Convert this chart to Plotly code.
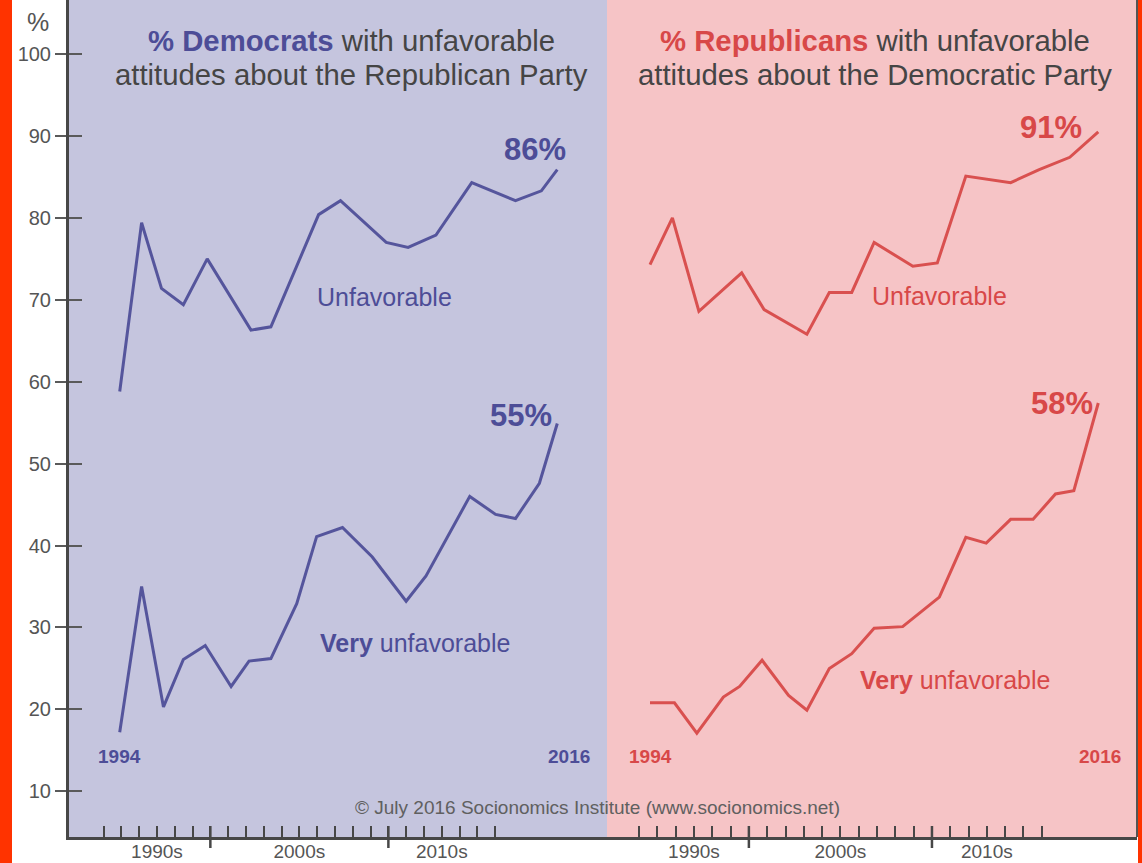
import plotly.graph_objects as go

# ---------------- data ----------------
dem_unfav_years = [1994.0, 1995.1, 1996.1, 1997.2, 1998.4, 2000.6, 2001.6, 2003.0,
                   2004.0, 2005.1, 2007.4, 2008.5, 2009.9, 2011.7, 2013.9, 2015.2, 2016.0]
dem_unfav = [58.8, 79.4, 71.4, 69.4, 75.0, 66.3, 66.7, 74.8,
             80.4, 82.1, 77.0, 76.4, 77.9, 84.3, 82.1, 83.3, 85.9]

dem_very_years = [1994.0, 1995.1, 1996.2, 1997.2, 1998.3, 1999.6, 2000.5, 2001.6, 2002.9,
                  2003.9, 2005.2, 2006.7, 2008.4, 2009.4, 2011.6, 2012.9, 2013.9, 2015.1, 2016.0]
dem_very = [17.2, 35.0, 20.3, 26.1, 27.8, 22.8, 25.9, 26.2, 32.9,
            41.1, 42.2, 38.6, 33.2, 36.3, 46.0, 43.8, 43.3, 47.6, 54.9]

rep_unfav_years = [1994.0, 1995.1, 1996.4, 1998.5, 1999.6, 2001.7, 2002.8, 2003.9,
                   2005.0, 2006.9, 2008.1, 2009.5, 2011.7, 2013.1, 2014.6, 2016.0]
rep_unfav = [74.3, 80.0, 68.6, 73.3, 68.8, 65.8, 70.9, 70.9,
             77.0, 74.1, 74.5, 85.1, 84.3, 85.9, 87.4, 90.5]

rep_very_years = [1994.0, 1995.2, 1996.3, 1997.6, 1998.4, 1999.5, 2000.8, 2001.7, 2002.8,
                  2003.9, 2005.0, 2006.4, 2007.3, 2008.2, 2009.5, 2010.5, 2011.7, 2012.8,
                  2013.9, 2014.8, 2016.0]
rep_very = [20.8, 20.8, 17.1, 21.5, 22.8, 26.0, 21.7, 19.9, 25.0,
            26.8, 29.9, 30.1, 31.9, 33.7, 41.0, 40.3, 43.2, 43.2,
            46.3, 46.7, 57.4]

y_ticks = [10, 20, 30, 40, 50, 60, 70, 80, 90, 100]
tick_years = list(range(1994, 2017))
decade_labels = {1997: "1990s", 2005: "2000s", 2013: "2010s"}
decade_marks = [2000, 2010]

end_dem = ["86%", "55%"]
end_rep = ["91%", "58%"]

# ---------------- style ----------------
FONT = "Liberation Sans, Arial, Helvetica, sans-serif"
BLUE_BG = "#c5c5de"
PINK_BG = "#f6c4c6"
BLUE = "#55559c"
BLUE_TXT = "#4d4d97"
RED = "#d9504f"
RED_TXT = "#d84848"
GRAY_TXT = "#454545"
AXIS = "#474747"
EDGE = "#ff3300"

W, H = 1142, 863
ML, MR, MT, MB = 69, 5, 0, 26
PW, PH = W - ML - MR, H - MT - MB
SPLIT = (607 - ML) / PW


def px_x(px):
    return (px - ML) / PW


def px_y(py):
    return 1 - (py - MT) / PH


fig = go.Figure()

line_kw = dict(mode="lines", showlegend=False, hoverinfo="skip")
fig.add_trace(go.Scatter(x=dem_unfav_years, y=dem_unfav, xaxis="x", yaxis="y",
                         line=dict(color=BLUE, width=3), **line_kw))
fig.add_trace(go.Scatter(x=dem_very_years, y=dem_very, xaxis="x", yaxis="y",
                         line=dict(color=BLUE, width=3), **line_kw))
fig.add_trace(go.Scatter(x=rep_unfav_years, y=rep_unfav, xaxis="x2", yaxis="y",
                         line=dict(color=RED, width=3), **line_kw))
fig.add_trace(go.Scatter(x=rep_very_years, y=rep_very, xaxis="x2", yaxis="y",
                         line=dict(color=RED, width=3), **line_kw))
# carriers for the decorative tick axes
for xa, ya in (("x3", "y"), ("x4", "y"), ("x", "y2")):
    fig.add_trace(go.Scatter(x=[None], y=[None], xaxis=xa, yaxis=ya, **line_kw))

tick_text = [decade_labels.get(y, "") for y in tick_years]
tick_axis = dict(
    tickmode="array", tickvals=tick_years, ticktext=tick_text,
    ticks="inside", ticklen=11, tickwidth=1.5, tickcolor=AXIS,
    showline=True, linecolor=AXIS, linewidth=3, showgrid=False, zeroline=False,
    tickfont=dict(family=FONT, size=19, color="#555555"), ticklabelstandoff=-5,
    anchor="y", side="bottom", fixedrange=True, automargin=False,
)

fig.update_layout(
    width=W, height=H,
    margin=dict(l=ML, r=MR, t=MT, b=MB, autoexpand=False),
    paper_bgcolor="white", plot_bgcolor="white",
    xaxis=dict(domain=[0, SPLIT], range=[1991.45, 2018.5], visible=False, anchor="y",
               automargin=False),
    xaxis2=dict(domain=[SPLIT, 1], range=[1991.89, 2017.9], visible=False, anchor="y",
                automargin=False),
    xaxis3=dict(overlaying="x", range=[1992.06, 2022.28], **tick_axis),
    xaxis4=dict(overlaying="x2", range=[1992.25, 2021.2], **tick_axis),
    yaxis=dict(domain=[0, 1], range=[4.42, 106.6], tickvals=y_ticks,
               ticks="outside", ticklen=11, tickwidth=2, tickcolor="#5a5a5a",
               showline=True, linecolor=AXIS, linewidth=3, showgrid=False, zeroline=False,
               tickfont=dict(family=FONT, size=20, color="#555555"), anchor="x",
               automargin=False),
    yaxis2=dict(overlaying="y", range=[4.42, 106.6], tickvals=y_ticks,
                ticks="inside", ticklen=13, tickwidth=2, tickcolor="#5a5a5a",
                showticklabels=False, showline=False, showgrid=False, zeroline=False,
                side="left", anchor="x", automargin=False),
)

shapes = [
    dict(type="rect", xref="x domain", yref="paper", x0=0, x1=1, y0=0, y1=1,
         fillcolor=BLUE_BG, line=dict(width=0), layer="below"),
    dict(type="rect", xref="x2 domain", yref="paper", x0=0, x1=1, y0=0, y1=1,
         fillcolor=PINK_BG, line=dict(width=0), layer="below"),
    # frame edge on the right
    dict(type="line", xref="paper", yref="paper", x0=1, x1=1, y0=0, y1=1,
         line=dict(color="#555555", width=2)),
    # orange-red page edges
    dict(type="rect", xref="paper", yref="paper",
         x0=px_x(0), x1=px_x(12), y0=px_y(H), y1=1,
         fillcolor=EDGE, line=dict(width=0)),
    dict(type="rect", xref="paper", yref="paper",
         x0=px_x(1138), x1=px_x(W), y0=px_y(H), y1=1,
         fillcolor=EDGE, line=dict(width=0)),
]
for xa in ("x3", "x4"):
    for yr in decade_marks:
        shapes.append(dict(type="line", xref=xa, yref="paper", x0=yr, x1=yr,
                           y0=px_y(848), y1=px_y(826), line=dict(color=AXIS, width=2.5)))
fig.update_layout(shapes=shapes)

ann = []


def add_text(text, x, y, xref, yref, size, color):
    ann.append(dict(text=text, x=x, y=y, xref=xref, yref=yref, showarrow=False,
                    xanchor="center", yanchor="middle",
                    font=dict(family=FONT, size=size, color=color)))


# panel titles
TS = 29.3
add_text(f"<b><span style='color:{BLUE_TXT}'>% Democrats</span></b> with unfavorable",
         px_x(351), px_y(41), "paper", "paper", TS, GRAY_TXT)
add_text("attitudes about the Republican Party",
         px_x(351), px_y(74), "paper", "paper", TS, GRAY_TXT)
add_text(f"<b><span style='color:{RED_TXT}'>% Republicans</span></b> with unfavorable",
         px_x(875), px_y(41), "paper", "paper", TS, GRAY_TXT)
add_text("attitudes about the Democratic Party",
         px_x(875), px_y(74), "paper", "paper", TS, GRAY_TXT)

# end values
add_text(f"<b>{end_dem[0]}</b>", 2014.9, 88.3, "x", "y", 31, BLUE_TXT)
add_text(f"<b>{end_dem[1]}</b>", 2014.2, 55.9, "x", "y", 31, BLUE_TXT)
add_text(f"<b>{end_rep[0]}</b>", 2013.7, 91.0, "x2", "y", 31, RED_TXT)
add_text(f"<b>{end_rep[1]}</b>", 2014.2, 57.4, "x2", "y", 31, RED_TXT)

# series labels
add_text("Unfavorable", 2007.3, 70.4, "x", "y", 25, BLUE_TXT)
add_text("<b>Very</b> unfavorable", 2008.85, 28.1, "x", "y", 25, BLUE_TXT)
add_text("Unfavorable", 2008.2, 70.5, "x2", "y", 25, RED_TXT)
add_text("<b>Very</b> unfavorable", 2008.95, 23.6, "x2", "y", 25, RED_TXT)

# start / end years
add_text("<b>1994</b>", 1994.0, 14.2, "x", "y", 19, BLUE_TXT)
add_text("<b>2016</b>", 2016.6, 14.2, "x", "y", 19, BLUE_TXT)
add_text("<b>1994</b>", 1994.0, 14.2, "x2", "y", 19, RED_TXT)
add_text("<b>2016</b>", 2016.1, 14.2, "x2", "y", 19, RED_TXT)

# copyright
add_text("© July 2016 Socionomics Institute (www.socionomics.net)",
         px_x(597), px_y(807), "paper", "paper", 19, "#606060")

# y unit
add_text("%", px_x(38), px_y(22), "paper", "paper", 25, "#555555")

fig.update_layout(annotations=ann)

fig.write_html("out.html", config={"displayModeBar": False},
               post_script="document.body.style.margin='0';")
